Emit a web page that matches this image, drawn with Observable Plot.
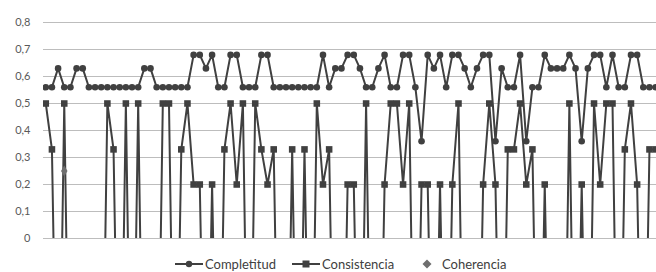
<!DOCTYPE html>
<html><head><meta charset="utf-8">
<script src="https://cdn.jsdelivr.net/npm/d3@7"></script>
<script src="https://cdn.jsdelivr.net/npm/@observablehq/plot@0.6"></script>
<style>
body{margin:0;background:#fff;font-family:Lato,"Open Sans",sans-serif;}
#wrap{position:relative;width:656px;height:272px;overflow:hidden;}
#legend{position:absolute;left:0;top:255px;width:656px;height:17px;font-size:13px;color:#404040;}
.item{position:absolute;top:0;display:flex;align-items:center;height:17px;white-space:nowrap;}
.item svg{margin-right:2px;}
</style></head><body>
<div id="wrap"><div id="chart"></div><div id="legend"></div></div>
<script>
// Missing values are stored as -1 (plotted below the axis, clipped as in the original)
const seriesNames = ["Completitud", "Consistencia", "Coherencia"];
const completitud = [
  0.56,0.56,0.63,0.56,0.56,0.63,0.63,0.56,0.56,0.56,
  0.56,0.56,0.56,0.56,0.56,0.56,0.63,0.63,0.56,0.56,
  0.56,0.56,0.56,0.56,0.68,0.68,0.63,0.68,0.56,0.56,
  0.68,0.68,0.56,0.56,0.56,0.68,0.68,0.56,0.56,0.56,
  0.56,0.56,0.56,0.56,0.56,0.68,0.56,0.63,0.63,0.68,
  0.68,0.63,0.56,0.56,0.63,0.68,0.56,0.56,0.68,0.68,
  0.56,0.36,0.68,0.63,0.68,0.56,0.68,0.68,0.63,0.56,
  0.63,0.68,0.68,0.36,0.63,0.56,0.56,0.68,0.36,0.56,
  0.56,0.68,0.63,0.63,0.63,0.68,0.63,0.36,0.63,0.68,
  0.68,0.56,0.68,0.56,0.56,0.68,0.68,0.56,0.56,0.56
];
const consistencia = [
  0.5,0.33,-1,0.5,-1,-1,-1,-1,-1,-1,
  0.5,0.33,-1,0.5,-1,0.5,-1,-1,-1,0.5,
  0.5,-1,0.33,0.5,0.2,0.2,-1,0.2,-1,0.33,
  0.5,0.2,0.5,-1,0.5,0.33,0.2,0.33,-1,-1,
  0.33,-1,0.33,-1,0.5,0.2,0.33,-1,-1,0.2,
  0.2,-1,0.5,-1,-1,0.2,0.5,0.5,0.2,0.5,
  -1,0.2,0.2,-1,0.2,-1,0.2,0.5,-1,-1,
  -1,0.2,0.5,0.2,-1,0.33,0.33,0.5,0.2,0.33,
  -1,0.2,-1,-1,-1,0.5,-1,0.2,-1,0.5,
  0.2,0.5,0.5,-1,0.33,0.5,0.2,-1,0.33,0.33
];
const coherencia = [
  -1,-1,-1,0.25,-1,-1,-1,-1,-1,-1,
  -1,-1,-1,-1,-1,-1,-1,-1,-1,-1,
  -1,-1,-1,-1,-1,-1,-1,-1,-1,-1,
  -1,-1,-1,-1,-1,-1,-1,-1,-1,-1,
  -1,-1,-1,-1,-1,-1,-1,-1,-1,-1,
  -1,-1,-1,-1,-1,-1,-1,-1,-1,-1,
  -1,-1,-1,-1,-1,-1,-1,-1,-1,-1,
  -1,-1,-1,-1,-1,-1,-1,-1,-1,-1,
  -1,-1,-1,-1,-1,-1,-1,-1,-1,-1,
  -1,-1,-1,-1,-1,-1,-1,-1,-1,-1
];
const yTicks = [0,0.1,0.2,0.3,0.4,0.5,0.6,0.7,0.8];

const N = completitud.length;
const idx = d3.range(N);
const C = "#404040";

const chart = Plot.plot({
  width: 656, height: 252,
  marginLeft: 43, marginRight: 0, marginTop: 22, marginBottom: 14,
  style: {fontFamily: "Lato, 'Open Sans', sans-serif", fontSize: "11px", color: "#595959", background: "#fff"},
  x: {type: "linear", domain: [-0.5, N - 0.5], range: [42.2, 42.2 + N * 6.16], axis: null},
  y: {domain: [0, 0.8], ticks: yTicks, tickSize: 0, tickPadding: 13, label: null,
      tickFormat: d => d === 0 ? "0" : d.toFixed(1).replace(".", ",")},
  marks: [
    Plot.ruleY(yTicks, {stroke: "#bdbdbd", strokeWidth: 1}),
    Plot.line(idx, {x: d => d, y: d => consistencia[d], stroke: C, strokeWidth: 2, clip: true}),
    Plot.dot(idx, {x: d => d, y: d => consistencia[d], symbol: "square", r: 3.7, fill: C, stroke: "none", clip: true}),
    Plot.line(idx, {x: d => d, y: d => completitud[d], stroke: C, strokeWidth: 2, clip: true}),
    Plot.dot(idx, {x: d => d, y: d => completitud[d], symbol: "circle", r: 3.3, fill: C, stroke: "none", clip: true}),
    Plot.dot(idx, {x: d => d, y: d => coherencia[d], symbol: "diamond", r: 3.4, fill: "#6e6e6e", stroke: "none", clip: true})
  ]
});
document.getElementById("chart").appendChild(chart);

// Legend
const legend = document.getElementById("legend");
const sym = {
  Completitud: `<svg width="28" height="12"><line x1="0" y1="6" x2="28" y2="6" stroke="${C}" stroke-width="2"/><circle cx="14" cy="6" r="3.2" fill="${C}"/></svg>`,
  Consistencia: `<svg width="28" height="12"><line x1="0" y1="6" x2="28" y2="6" stroke="${C}" stroke-width="2"/><rect x="10.5" y="2.5" width="7" height="7" fill="${C}"/></svg>`,
  Coherencia: `<svg width="14" height="12"><path d="M7,1.5 L11.5,6 L7,10.5 L2.5,6Z" fill="#6e6e6e"/></svg>`
};
const lefts = [175, 292, 420];
seriesNames.forEach((name, i) => {
  const el = document.createElement("div");
  el.className = "item";
  el.style.left = lefts[i] + "px";
  el.innerHTML = sym[name] + `<span${i===2?' style="margin-left:6px"':''}>${name}</span>`;
  legend.appendChild(el);
});
</script>
</body></html>
